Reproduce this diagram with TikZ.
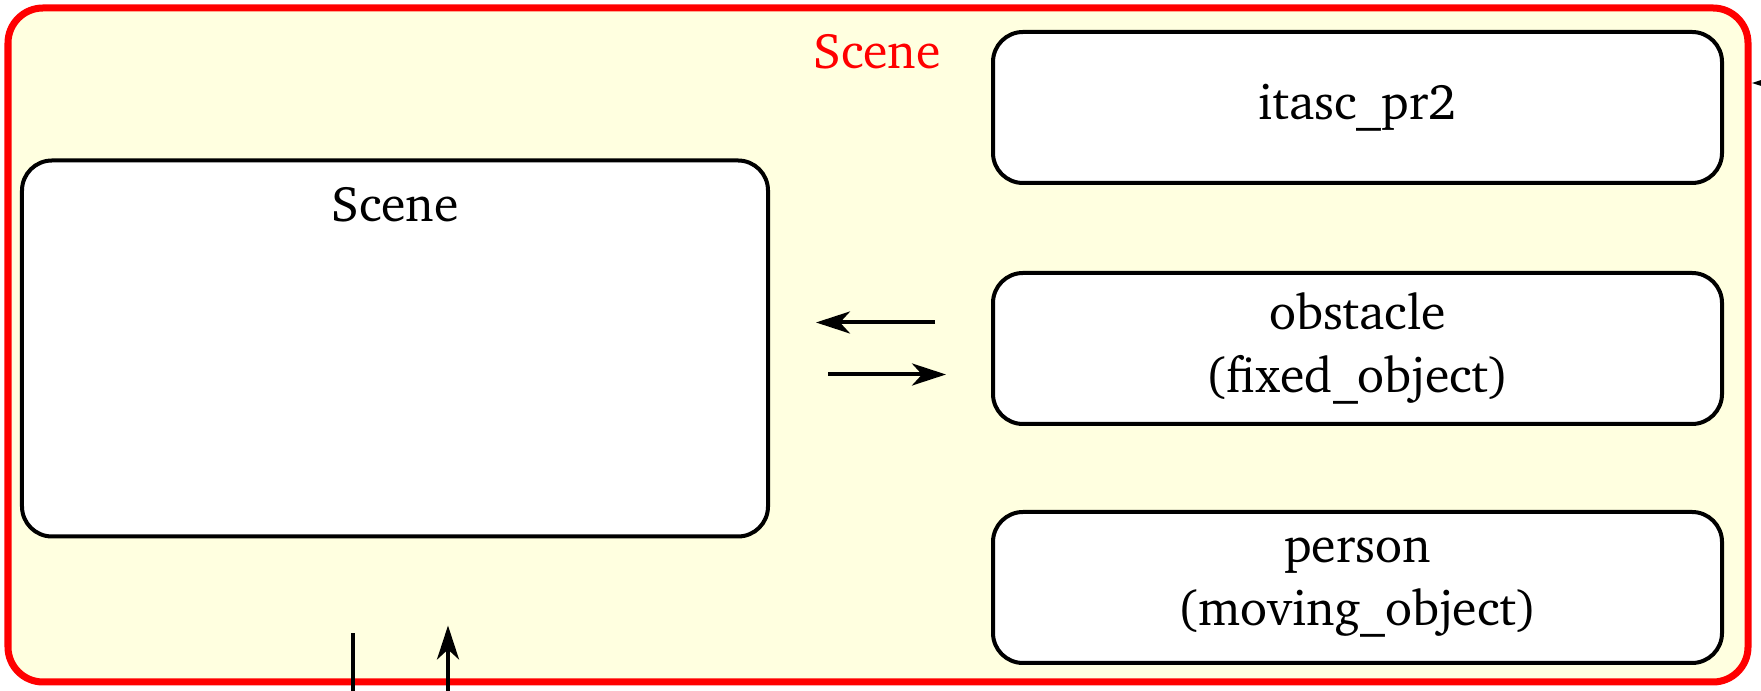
\documentclass[tikz,border=0pt]{standalone}
\usepackage[T1]{fontenc}
\usepackage{charter}
\usetikzlibrary{positioning}
\usetikzlibrary{arrows.meta}
\definecolor{clusterfill}{RGB}{255,255,224}
\tikzset{
        objnode/.style={align=center,inner sep=0pt},
        % Object nodes
        node_object/.style={objnode, rectangle, rounded corners=0.3cm, draw=black, fill=white, line width=0.04cm, minimum width=7.29cm, minimum height=1.51cm},
        % Scene node
        node_scene/.style={objnode, rectangle, rounded corners=0.3cm, draw=black, fill=white, line width=0.04cm, minimum width=7.46cm, minimum height=3.76cm},
        % Cluster frame
        node_cluster/.style={draw=red, fill=clusterfill, line width=0.07cm, rounded corners=0.35cm},
        % Edges
        edge_flow/.style={line width=0.04cm, -{Stealth[length=0.34cm, width=0.22cm, inset=0.1cm]}}
}
\begin{document}
\begin{tikzpicture}[
            font=\fontsize{14.2}{17.8}\selectfont
        ]
            \useasboundingbox (0,0) rectangle (17.61,-6.91);
            \draw[node_cluster] (0.08,-0.08) rectangle (17.48,-6.82);
            \node[red] (lbl) at (8.77,-0.52) {Scene};
            \node[node_object] (itasc) at (13.575,-1.075) {itasc\_pr2};
            \node[node_object, below=0.86cm of itasc] (obs) {obstacle\\(fixed\_object)};
            \node[node_object, below=0.84cm of obs] (person) {person\\(moving\_object)};
            \node[node_scene, left=2.21cm of obs, label={[anchor=north,yshift=-0.17cm]north:Scene}] (scn) {};
            % edges between scene and obstacle
            \draw[edge_flow] ([shift={(-0.56,0.26)}]obs.west) -- ([shift={(0.46,0.26)}]scn.east);
            \draw[edge_flow] ([shift={(0.58,-0.26)}]scn.east) -- ([shift={(-0.45,-0.26)}]obs.west);
            % edges leaving the cluster
            \coordinate (in_a) at ([shift={(-0.42,-1.6)}]scn.south);
            \coordinate (in_b) at ([shift={(0.53,-1.6)}]scn.south);
            \coordinate (ext) at ([shift={(0.8,0.245)}]itasc.east);
            \draw[line width=0.04cm] ([shift={(-0.42,-0.95)}]scn.south) -- (in_a);
            \draw[edge_flow] (in_b) -- ([shift={(0.53,-0.87)}]scn.south);
            \draw[edge_flow] (ext) -- ([shift={(0.28,0.245)}]itasc.east);
        \end{tikzpicture}
\end{document}
